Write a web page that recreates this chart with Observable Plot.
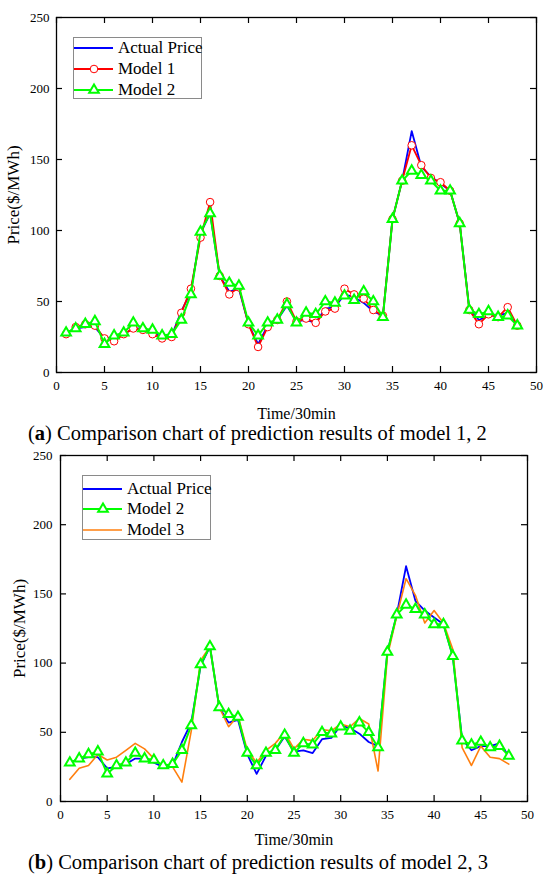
<!DOCTYPE html>
<html><head><meta charset="utf-8">
<script src="https://cdn.jsdelivr.net/npm/d3@7"></script>
<script src="https://cdn.jsdelivr.net/npm/@observablehq/plot@0.6"></script>
<style>
body{margin:0;background:#fff;font-family:"Liberation Serif",serif;color:#000;}
.panel{position:relative;width:550px;}
.panel svg{display:block;overflow:visible;}
.panel svg text{font-family:"Liberation Serif",serif;}
.legend{position:absolute;border:1px solid #8a8a8a;background:#fff;box-sizing:border-box;}
.row{position:absolute;left:0;height:20px;display:flex;align-items:center;font-size:17px;white-space:nowrap;}
.row svg{display:block;}
.cap{width:550px;font-size:20.5px;padding-left:28px;box-sizing:border-box;white-space:nowrap;}
</style></head><body>
<div id="a" class="panel"></div>
<div class="cap" style="height:20px;line-height:16px">(<b>a</b>) Comparison chart of prediction results of model 1, 2</div>
<div id="b" class="panel"></div>
<div class="cap" style="height:30px;line-height:26px">(<b>b</b>) Comparison chart of prediction results of model 2, 3</div>
<script>
const time = [1,2,3,4,5,6,7,8,9,10,11,12,13,14,15,16,17,18,19,20,21,22,23,24,25,26,27,28,29,30,31,32,33,34,35,36,37,38,39,40,41,42,43,44,45,46,47,48];
const actualPrice = [28,31,32,32,24,25,27,31,31,28,25,26,43,57,98,112,68,57,59,34,20,33,37,47,36,37,35,45,46,55,53,49,43,40,108,135,170,145,138,133,128,105,45,37,40,40,42,33];
const model1 = [27,32,34,33,24,22,27,31,30,27,24,25,42,59,95,120,68,55,60,34,18,32,37,50,36,38,35,43,45,59,55,52,44,40,108,135,160,146,137,134,128,105,44,34,41,39,46,33];
const model2 = [28,31,34,36,20,26,28,35,31,30,26,27,37,55,99,112,68,63,61,35,26,35,37,48,35,42,41,50,49,54,51,57,50,39,108,135,142,139,135,128,128,105,44,41,43,39,40,33];
const model3 = [16,24,26,34,30,32,37,42,38,31,25,25,14,51,102,112,68,54,62,37,28,37,42,50,38,45,44,52,51,56,54,60,56,22,105,134,161,149,129,138,129,110,39,26,40,32,31,27];
const xTicks = [0,5,10,15,20,25,30,35,40,45,50];
const yTicks = [0,50,100,150,200,250];
const seriesNames = ["Actual Price","Model 1","Model 2","Model 3"];

const styles = {
  "Actual Price": {color:"#0000ff", width:1.8},
  "Model 1": {color:"#ff0000", width:1.8, symbol:"circle", r:3.8, sw:1},
  "Model 2": {color:"#00ff00", width:2, symbol:"triangle", r:3.6, sw:2},
  "Model 3": {color:"#ff7f0e", width:1.6}
};
const valuesOf = {"Actual Price":actualPrice, "Model 1":model1, "Model 2":model2, "Model 3":model3};

function makePlot(cfg) {
  const {height, mt, mb, ml, mr, draw, ylabDx, xlabDy, tickPad, yPad} = cfg;
  const fw = 550 - ml - mr, fh = height - mt - mb;
  const marks = [];
  for (const name of draw) {
    const st = styles[name];
    const data = time.map((t,i)=>({t, v: valuesOf[name][i]}));
    marks.push(Plot.line(data, {x:"t", y:"v", stroke: st.color, strokeWidth: st.width}));
    if (st.symbol) marks.push(Plot.dot(data, {x:"t", y:"v", symbol: st.symbol, r: st.r, stroke: st.color, fill:"white", strokeWidth: st.sw}));
  }
  marks.push(Plot.frame({stroke:"black", strokeWidth:1.3}));
  marks.push(Plot.tickX(xTicks, {x:d=>d, insetTop: fh-6, stroke:"black", strokeWidth:1.2}));
  marks.push(Plot.tickX(xTicks, {x:d=>d, insetBottom: fh-6, stroke:"black", strokeWidth:1.2}));
  marks.push(Plot.tickY(yTicks, {y:d=>d, insetRight: fw-6, stroke:"black", strokeWidth:1.2}));
  marks.push(Plot.tickY(yTicks, {y:d=>d, insetLeft: fw-6, stroke:"black", strokeWidth:1.2}));
  marks.push(Plot.axisX({ticks:xTicks, tickSize:0, tickPadding:tickPad, label:null, fontSize:13, fill:"black"}));
  marks.push(Plot.axisY({ticks:yTicks, tickSize:0, tickPadding:yPad, label:null, fontSize:13, fill:"black"}));
  marks.push(Plot.text(["Time/30min"], {frameAnchor:"bottom", dy:xlabDy, lineAnchor:"middle", textAnchor:"middle", fontSize:16, fill:"black"}));
  marks.push(Plot.text(["Price($/MWh)"], {frameAnchor:"left", dx:ylabDx, rotate:-90, textAnchor:"middle", lineAnchor:"middle", fontSize:17, fill:"black"}));
  return Plot.plot({
    width:550, height, marginTop:mt, marginBottom:mb, marginLeft:ml, marginRight:mr,
    x:{domain:[0,50]}, y:{domain:[0,250]},
    style:"font-family:'Liberation Serif',serif;color:black;background:white;overflow:visible;",
    marks
  });
}

function makeLegend(container, names, box) {
  const lg = document.createElement("div");
  lg.className = "legend";
  Object.assign(lg.style, {left: box.left+"px", top: box.top+"px", width: box.width+"px", height: box.height+"px"});
  names.forEach((name, i) => {
    const st = styles[name];
    const row = document.createElement("div");
    row.className = "row";
    row.style.top = (box.rows[i] - 10) + "px";
    const ns = "http://www.w3.org/2000/svg";
    const svg = document.createElementNS(ns, "svg");
    svg.setAttribute("width", 40); svg.setAttribute("height", 20);
    const ln = document.createElementNS(ns, "line");
    ln.setAttribute("x1", 0); ln.setAttribute("x2", 39); ln.setAttribute("y1", 10); ln.setAttribute("y2", 10);
    ln.setAttribute("stroke", st.color); ln.setAttribute("stroke-width", st.width);
    svg.appendChild(ln);
    if (st.symbol) {
      const p = document.createElementNS(ns, "path");
      const sym = st.symbol === "circle" ? d3.symbolCircle : d3.symbolTriangle;
      p.setAttribute("d", d3.symbol(sym, st.r*st.r*Math.PI)());
      p.setAttribute("transform", "translate(20,10)");
      p.setAttribute("fill", "white"); p.setAttribute("stroke", st.color); p.setAttribute("stroke-width", st.sw);
      svg.appendChild(p);
    }
    row.appendChild(svg);
    const tx = document.createElement("span");
    tx.textContent = name;
    tx.style.marginLeft = "4px";
    row.appendChild(tx);
    lg.appendChild(row);
  });
  container.appendChild(lg);
}

const A = document.getElementById("a");
A.appendChild(makePlot({height:425, mt:17, mb:53, ml:56, mr:14, draw:["Actual Price","Model 1","Model 2"], ylabDx:-43, xlabDy:41, tickPad:8, yPad:7}));
makeLegend(A, ["Actual Price","Model 1","Model 2"], {left:73, top:37, width:129, height:62, rows:[10,31,52]});

const B = document.getElementById("b");
B.appendChild(makePlot({height:404, mt:10, mb:48, ml:60, mr:23, draw:["Actual Price","Model 3","Model 2"], ylabDx:-41, xlabDy:38, tickPad:8, yPad:8}));
makeLegend(B, ["Actual Price","Model 2","Model 3"], {left:82, top:30, width:129, height:65, rows:[12.7,33,54]});
</script>
</body></html>
